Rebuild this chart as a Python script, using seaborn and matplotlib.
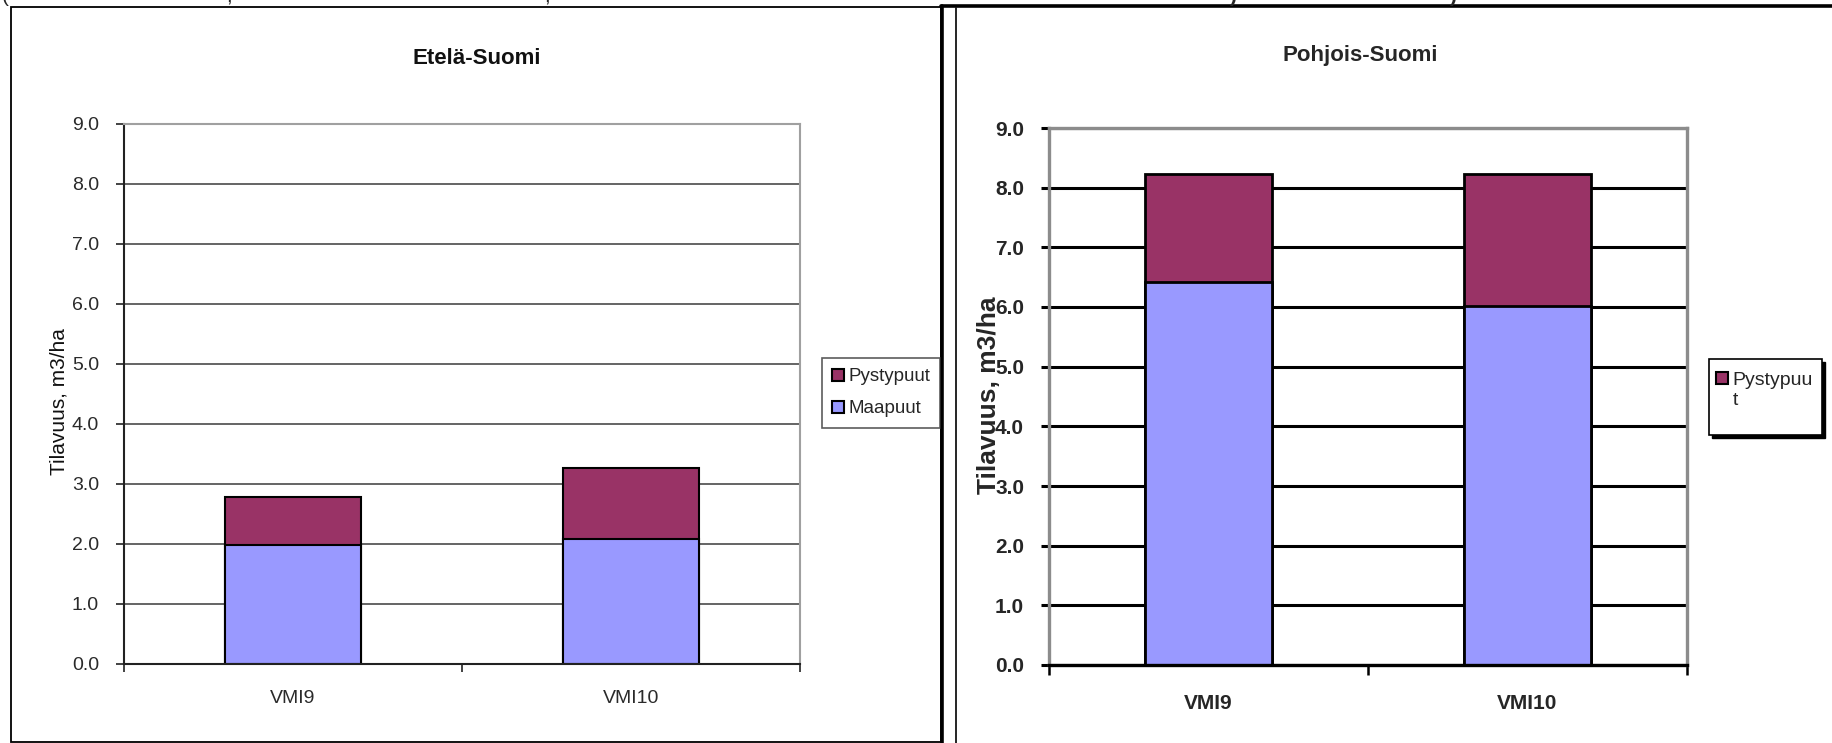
import matplotlib
matplotlib.use("Agg")
import matplotlib.pyplot as plt
import seaborn as sns
import pandas as pd
from matplotlib.lines import Line2D
from matplotlib.patches import Rectangle, Patch

# Dead wood volume (m3/ha) by inventory round
inventories = ["VMI9", "VMI10"]
south_maapuut = [1.98, 2.08]
south_pystypuut = [0.80, 1.19]
north_maapuut = [6.42, 6.02]
north_pystypuut = [1.81, 2.21]
y_ticks = [0, 1, 2, 3, 4, 5, 6, 7, 8, 9]

PURPLE = "#993366"
LILAC = "#9999FF"

sns.set_style("white")
plt.rcParams["font.family"] = ["Liberation Sans", "DejaVu Sans"]

W, H = 1832, 743
fig = plt.figure(figsize=(W / 100, H / 100), dpi=100)
fig.patch.set_facecolor("white")


def fx(px):
    return px / W


def fy(py):
    return 1 - py / H


def stacked(ax, maapuut, pystypuut, lw):
    df = pd.DataFrame({"inventaario": inventories,
                       "Maapuut": maapuut,
                       "Pystypuut": pystypuut})
    df["yhteensa"] = df["Maapuut"] + df["Pystypuut"]
    sns.barplot(data=df, x="inventaario", y="yhteensa", color=PURPLE,
                saturation=1, width=0.4, edgecolor="black", linewidth=lw,
                errorbar=None, ax=ax)
    sns.barplot(data=df, x="inventaario", y="Maapuut", color=LILAC,
                saturation=1, width=0.4, edgecolor="black", linewidth=lw,
                errorbar=None, ax=ax)
    ax.set_xlabel("")
    ax.set_ylabel("")
    ax.set_xlim(-0.5, 1.5)
    ax.set_ylim(0, 9)
    ax.set_yticks(y_ticks)
    ax.set_yticklabels([f"{v:.1f}" for v in y_ticks])
    ax.set_xticks([-0.5, 0.5, 1.5], minor=True)
    ax.set_axisbelow(True)
    ax.xaxis.grid(False)
    ax.set_facecolor("white")


# ---------------- Etelä-Suomi ----------------
ax_s = fig.add_axes([fx(124), fy(664), (800 - 124) / W, (664 - 124) / H])
stacked(ax_s, south_maapuut, south_pystypuut, 1.5)
ax_s.yaxis.grid(True, color="#4a4a4a", linewidth=1.2)
for side in ("top", "right"):
    ax_s.spines[side].set_color("#a0a0a0")
    ax_s.spines[side].set_linewidth(1.5)
for side in ("left", "bottom"):
    ax_s.spines[side].set_color("#222222")
    ax_s.spines[side].set_linewidth(1.5)
ax_s.tick_params(axis="y", left=True, length=6, width=1.2, color="#222222",
                 pad=12, labelsize=14, labelcolor="#2a2a2a")
ax_s.tick_params(axis="x", which="major", bottom=True, length=0, pad=19,
                 labelsize=14, labelcolor="#2a2a2a")
ax_s.tick_params(axis="x", which="minor", bottom=True, length=6, width=1.2,
                 color="#222222")

fig.text(fx(477), fy(58), "Etelä-Suomi", ha="center", va="center",
         fontsize=16, fontweight="bold", color="#111111")
fig.text(fx(59), fy(402), "Tilavuus, m3/ha", ha="center", va="center",
         rotation=90, fontsize=15, color="#111111")

handles_s = [Patch(facecolor=PURPLE, edgecolor="black", linewidth=1.5),
             Patch(facecolor=LILAC, edgecolor="black", linewidth=1.5)]
leg_s = fig.legend(handles_s, ["Pystypuut", "Maapuut"],
                   loc="upper left", bbox_to_anchor=(fx(822), fy(358)),
                   bbox_transform=fig.transFigure, frameon=True,
                   fancybox=False, edgecolor="#333333", fontsize=13.5,
                   handlelength=0.6, handleheight=0.6, handletextpad=0.25,
                   borderpad=0.55, labelspacing=0.8, borderaxespad=0)
leg_s.get_frame().set_linewidth(1.2)

# ---------------- Pohjois-Suomi ----------------
ax_n = fig.add_axes([fx(1049), fy(665), (1687 - 1049) / W, (665 - 128) / H])
stacked(ax_n, north_maapuut, north_pystypuut, 2.0)
ax_n.yaxis.grid(True, color="black", linewidth=2.2)
for side in ("top", "right", "left"):
    ax_n.spines[side].set_color("#8c8c8c")
    ax_n.spines[side].set_linewidth(2.4)
ax_n.spines["bottom"].set_color("black")
ax_n.spines["bottom"].set_linewidth(2.4)
ax_n.tick_params(axis="y", left=True, length=6, width=2.2, color="black",
                 pad=12, labelsize=15)
ax_n.tick_params(axis="x", which="major", bottom=True, length=0, pad=21,
                 labelsize=15)
ax_n.tick_params(axis="x", which="minor", bottom=True, length=7, width=1.8,
                 color="black")
for lab in ax_n.get_xticklabels() + ax_n.get_yticklabels():
    lab.set_fontweight("bold")

fig.text(fx(1360), fy(55), "Pohjois-Suomi", ha="center", va="center",
         fontsize=16, fontweight="bold")
fig.text(fx(989), fy(395), "Tilavuus, m3/ha", ha="center", va="center",
         rotation=90, fontsize=19, fontweight="bold")

# legend box with a hard drop shadow; the entry text wraps onto two lines
fig.add_artist(Rectangle((fx(1712), fy(438)), (1822 - 1709) / W, (435 - 359) / H,
                         transform=fig.transFigure, facecolor="black",
                         edgecolor="black", linewidth=1.0))
fig.add_artist(Rectangle((fx(1709), fy(435)), (1822 - 1709) / W, (435 - 359) / H,
                         transform=fig.transFigure, facecolor="white",
                         edgecolor="black", linewidth=1.2))
handles_n = [Patch(facecolor=PURPLE, edgecolor="black", linewidth=1.5),
             Patch(facecolor="none", edgecolor="none")]
leg_n = fig.legend(handles_n, ["Pystypuu", "t"],
                   loc="upper left", bbox_to_anchor=(fx(1716), fy(372)),
                   bbox_transform=fig.transFigure, frameon=False,
                   fontsize=14, handlelength=0.6, handleheight=0.6,
                   handletextpad=0.25, borderpad=0, labelspacing=0.15,
                   borderaxespad=0)

# ---------------- chart frames ----------------
fig.add_artist(Rectangle((fx(11), fy(742)), (941 - 11) / W, (742 - 7) / H,
                         transform=fig.transFigure, fill=False,
                         edgecolor="black", linewidth=1.3))
fig.add_artist(Line2D([fx(941), 1], [fy(6), fy(6)], transform=fig.transFigure,
                      color="black", linewidth=2.6))
fig.add_artist(Line2D([fx(942), fx(942)], [fy(6), 0], transform=fig.transFigure,
                      color="black", linewidth=2.6))
fig.add_artist(Line2D([fx(956), fx(956)], [fy(8), 0], transform=fig.transFigure,
                      color="black", linewidth=1.2))

# caption line above the charts, cut by the top edge
for px, ch, wt in [(2, "(", "normal"), (226, ",", "normal"), (544, ",", "normal"),
                   (1230, ")", "bold"), (1450, ")", "bold")]:
    fig.text(fx(px), fy(2), ch, ha="left", va="baseline", fontsize=15,
             fontweight=wt)

fig.savefig("out.png", dpi=100, facecolor="white")
